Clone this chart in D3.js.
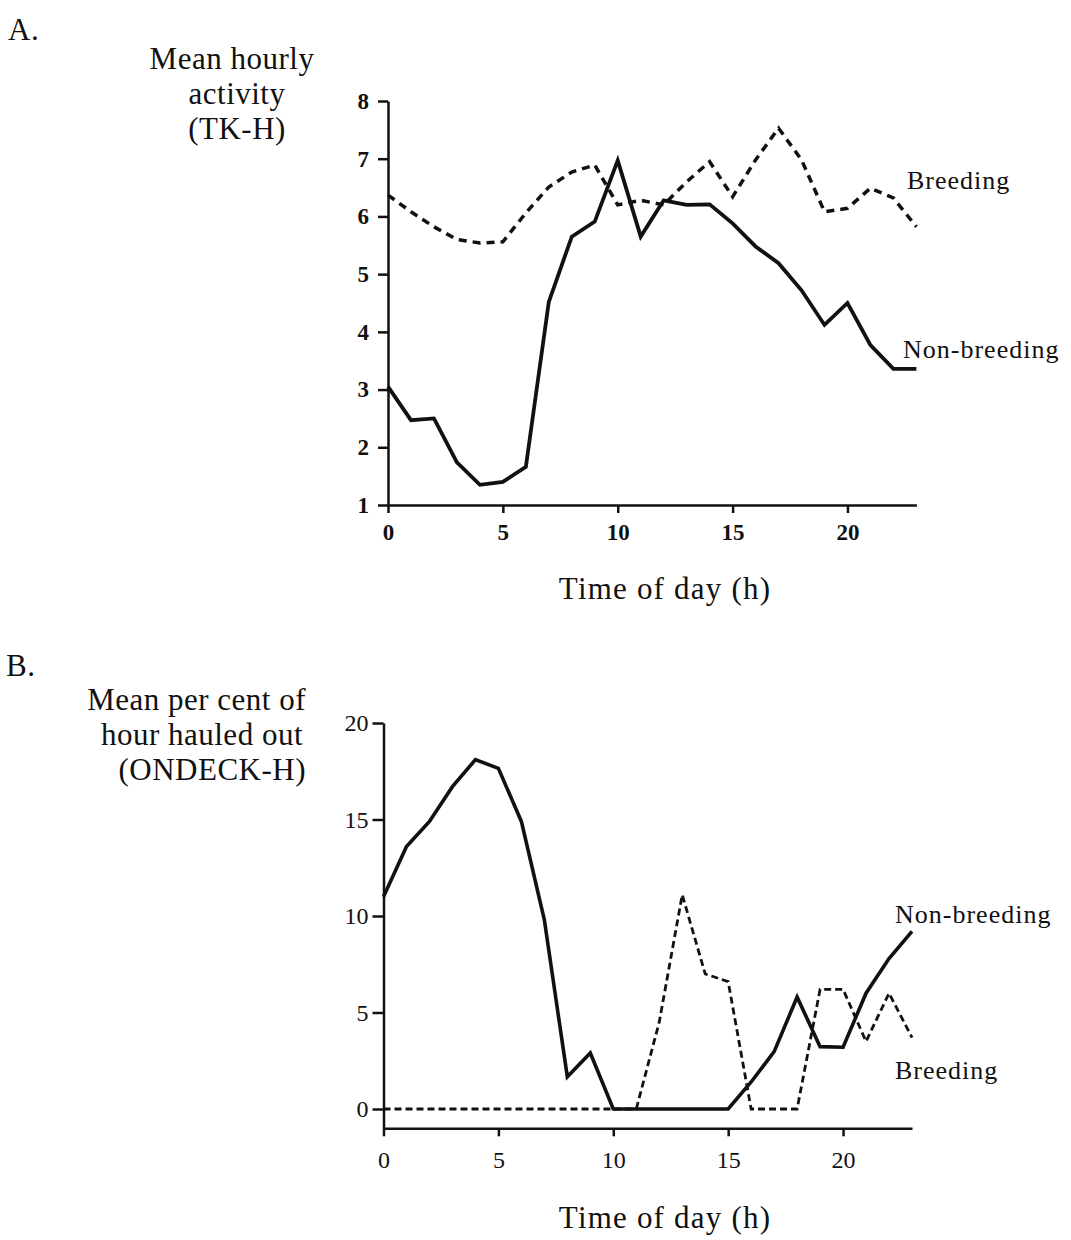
<!DOCTYPE html>
<html>
<head>
<meta charset="utf-8">
<script src="https://cdn.jsdelivr.net/npm/d3@7"></script>
<style>
  body { margin: 0; background: #fff; }
  svg { font-family: "Liberation Serif", "DejaVu Serif", serif; fill: #111; }
  .axis text { font-family: "Liberation Serif", serif; fill: #111; }
  .axis path, .axis line { stroke: #111; stroke-width: 2.5px; }
  .tickA text { font-size: 23px; font-weight: bold; }
  .tickB text { font-size: 24px; }
  .big { font-size: 31px; letter-spacing: 0.5px; }
  .lbl { font-size: 26px; letter-spacing: 1px; }
</style>
</head>
<body>
<div id="graphic"></div>
<script>

var width = 1071;
var height = 1240;

// hours 0..23
var hours = d3.range(0, 24);

// A. mean hourly activity (TK-H)
var tkBreeding = [6.37, 6.08, 5.82, 5.6, 5.54, 5.56, 6.06, 6.51, 6.77, 6.89, 6.2, 6.28,
                  6.2, 6.6, 6.95, 6.34, 6.98, 7.53, 6.98, 6.08, 6.14, 6.49, 6.32, 5.82];
var tkNonBreeding = [3.05, 2.47, 2.5, 1.74, 1.35, 1.4, 1.66, 4.52, 5.65, 5.91, 6.97, 5.65,
                     6.28, 6.2, 6.21, 5.88, 5.48, 5.19, 4.72, 4.12, 4.5, 3.77, 3.36, 3.36];

// B. mean per cent of hour hauled out (ONDECK-H)
var odBreeding = [0, 0, 0, 0, 0, 0, 0, 0, 0, 0, 0, 0,
                  4.5, 11.1, 7.0, 6.6, 0, 0, 0, 6.2, 6.2, 3.5, 6.0, 3.7];
var odNonBreeding = [11.0, 13.6, 14.9, 16.7, 18.1, 17.65, 14.9, 9.8, 1.67, 2.9, 0, 0,
                     0, 0, 0, 0, 1.4, 2.97, 5.8, 3.23, 3.2, 6.0, 7.8, 9.2];

var xTicks = [0, 5, 10, 15, 20];
var yTicksA = [1, 2, 3, 4, 5, 6, 7, 8];
var yTicksB = [0, 5, 10, 15, 20];

var svg = d3.select('#graphic')
  .append('svg')
  .attr("width", width)
  .attr("height", height);

// ---------- Panel A ----------
var xA = d3.scaleLinear().domain([0, 23]).range([388, 916.4]);
var yA = d3.scaleLinear().domain([1, 8]).range([505, 101]);

svg.append("g")
  .attr("class", "axis tickA")
  .attr("transform", "translate(0," + yA(1) + ")")
  .call(d3.axisBottom(xA).tickValues(xTicks).tickSize(8).tickSizeOuter(0).tickPadding(11)
    .tickFormat(d3.format("d")));

svg.append("g")
  .attr("class", "axis tickA")
  .attr("transform", "translate(" + xA(0) + ",0)")
  .call(d3.axisLeft(yA).tickValues(yTicksA).tickSize(10).tickSizeOuter(0).tickPadding(9)
    .tickFormat(d3.format("d")));

var lineA = d3.line()
  .x(function(d, i) { return xA(hours[i]); })
  .y(function(d) { return yA(d); });

svg.append("path")
  .datum(tkBreeding)
  .attr("d", lineA)
  .attr("fill", "none")
  .attr("stroke", "#111")
  .attr("stroke-width", 3.5)
  .attr("stroke-dasharray", "8,6");

svg.append("path")
  .datum(tkNonBreeding)
  .attr("d", lineA)
  .attr("fill", "none")
  .attr("stroke", "#111")
  .attr("stroke-width", 3.8);

svg.append("text").attr("class", "big").attr("x", 8).attr("y", 40).text("A.");
var ylabA = ["Mean hourly", "activity", "(TK-H)"];
var ylabAx = [232, 237, 237];
ylabA.forEach(function(t, i) {
  svg.append("text").attr("class", "big")
    .attr("x", ylabAx[i]).attr("y", 69 + i * 35)
    .attr("text-anchor", "middle").text(t);
});
svg.append("text").attr("class", "big").style("letter-spacing", "1.2px")
  .attr("x", 665).attr("y", 599).attr("text-anchor", "middle").text("Time of day (h)");
svg.append("text").attr("class", "lbl").attr("x", 907).attr("y", 189).text("Breeding");
svg.append("text").attr("class", "lbl").attr("x", 903).attr("y", 358).text("Non-breeding");

// ---------- Panel B ----------
var xB = d3.scaleLinear().domain([0, 23]).range([383.5, 912]);
var yB = d3.scaleLinear().domain([-1, 20]).range([1128.3, 723]);

svg.append("g")
  .attr("class", "axis tickB")
  .attr("transform", "translate(0," + yB(-1) + ")")
  .call(d3.axisBottom(xB).tickValues(xTicks).tickSize(8).tickSizeOuter(0).tickPadding(15));

svg.append("g")
  .attr("class", "axis tickB")
  .attr("transform", "translate(" + xB(0) + ",0)")
  .call(d3.axisLeft(yB).tickValues(yTicksB).tickSize(11).tickSizeOuter(0).tickPadding(4));

var lineB = d3.line()
  .x(function(d, i) { return xB(hours[i]); })
  .y(function(d) { return yB(d); });

svg.append("path")
  .datum(odBreeding)
  .attr("d", lineB)
  .attr("fill", "none")
  .attr("stroke", "#111")
  .attr("stroke-width", 2.8)
  .attr("stroke-dasharray", "7,4");

svg.append("path")
  .datum(odNonBreeding)
  .attr("d", lineB)
  .attr("fill", "none")
  .attr("stroke", "#111")
  .attr("stroke-width", 3.6);

svg.append("text").attr("class", "big").attr("x", 6).attr("y", 676).text("B.");
var ylabB = ["Mean per cent of", "hour hauled out", "(ONDECK-H)"];
var ylabBx = [306, 303, 306];
ylabB.forEach(function(t, i) {
  svg.append("text").attr("class", "big")
    .attr("x", ylabBx[i]).attr("y", 710 + i * 35)
    .attr("text-anchor", "end").text(t);
});
svg.append("text").attr("class", "big").style("letter-spacing", "1.2px")
  .attr("x", 665).attr("y", 1228).attr("text-anchor", "middle").text("Time of day (h)");
svg.append("text").attr("class", "lbl").attr("x", 895).attr("y", 923).text("Non-breeding");
svg.append("text").attr("class", "lbl").attr("x", 895).attr("y", 1079).text("Breeding");

</script>
</body>
</html>
